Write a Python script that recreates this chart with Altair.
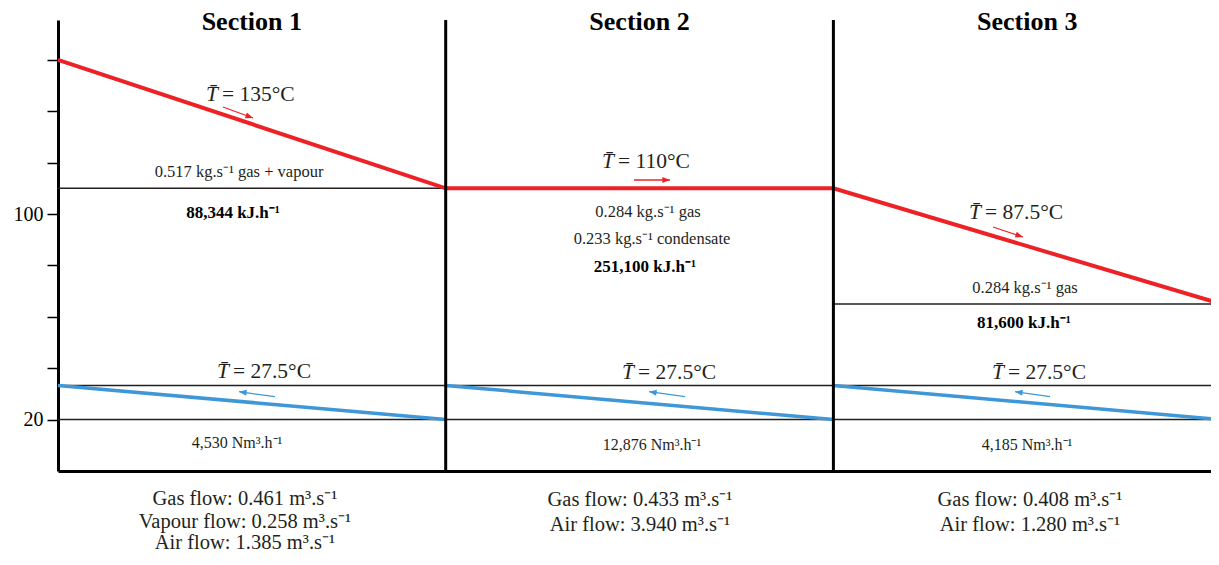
import math
import altair as alt
import pandas as pd

# ---------------- data ----------------
sections = ["Section 1", "Section 2", "Section 3"]
section_mid = [0.5, 1.5, 2.5]
section_edges = [0, 1, 2, 3]
gas_temps = [160, 110, 110, 65]      # gas temperature at section boundaries
air_in = [33.3, 33.3, 33.3]          # air temperature at left side of each section
air_out = [20, 20, 20]               # air temperature at right side of each section
gas_mean = ["135", "110", "87.5"]
air_mean = ["27.5", "27.5", "27.5"]
gas_rates = [["0.517 kg.s⁻¹ gas + vapour"],
             ["0.284 kg.s⁻¹ gas", "0.233 kg.s⁻¹ condensate"],
             ["0.284 kg.s⁻¹ gas"]]
duties = ["88,344 kJ.h⁻¹", "251,100 kJ.h⁻¹", "81,600 kJ.h⁻¹"]
air_rates = ["4,530 Nm³.h⁻¹", "12,876 Nm³.h⁻¹", "4,185 Nm³.h⁻¹"]
flows = [["Gas flow: 0.461 m³.s⁻¹", "Vapour flow: 0.258 m³.s⁻¹", "Air flow: 1.385 m³.s⁻¹"],
         ["Gas flow: 0.433 m³.s⁻¹", "Air flow: 3.940 m³.s⁻¹"],
         ["Gas flow: 0.408 m³.s⁻¹", "Air flow: 1.280 m³.s⁻¹"]]
y_ticks = [20, 40, 60, 80, 100, 120, 140, 160]
y_ticks_labelled = [20, 100]
divider_lines = [1, 2]
thin_lines = [(0, 1, 110), (2, 3, 65), (0, 3, 33.3), (0, 3, 20)]

# annotation anchor positions (data units)
gas_mean_pos = [(0.4153, 146.3), (1.4367, 120.2), (2.3833, 100.4)]
air_mean_pos = [(0.4436, 38.5), (1.4883, 38.1), (2.4426, 38.1)]
gas_rate_pos = [[(0.4669, 116.2)], [(1.5218, 100.8), (1.5321, 90.3)], [(2.4942, 71.2)]]
duty_pos = [(0.4514, 100.4), (1.5140, 79.4), (2.4916, 57.6)]
air_rate_pos = [(0.4617, 10.9), (1.5321, 10.1), (2.4994, 10.1)]
flow_pos = [[(0.4823, -10.9), (0.4823, -19.9), (0.4823, -28.0)],
            [(1.5011, -11.3), (1.5011, -21.0)],
            [(2.5071, -11.3), (2.5071, -21.0)]]
gas_arrows = [(0.4256, 141.65, 0.5030, 137.36), (1.4857, 113.24, 1.5785, 113.24),
              (2.4116, 94.95, 2.4890, 91.06)]
air_arrows = [(0.5597, 28.91, 0.4669, 30.86), (1.6172, 28.91, 1.5244, 30.86),
              (2.5587, 28.91, 2.4684, 30.86)]

# ---------------- layout ----------------
W, H = 1153, 451
XMAX = W / 387.7
YMAX = 175.5
PX_X = W / XMAX
PX_Y = H / YMAX
RED = "#ec2227"
BLUE = "#3f97d7"
INK = "#231f20"
FONT = "Liberation Serif"

xs = alt.Scale(domain=[0, XMAX], nice=False, zero=False)
ys = alt.Scale(domain=[0, YMAX], nice=False, zero=False)

# ---------------- tables ----------------
gas_df = pd.DataFrame({"x": section_edges, "y": gas_temps})
air_df = pd.DataFrame({"x": section_edges[:3], "y": air_in, "x2": section_edges[1:], "y2": air_out})
div_df = pd.DataFrame({"x": divider_lines, "y": [0] * len(divider_lines), "y2": [YMAX] * len(divider_lines)})
thin_df = pd.DataFrame(thin_lines, columns=["x", "x2", "y"])
title_df = pd.DataFrame({"x": section_mid, "y": [YMAX] * 3, "t": sections})

tbar_rows, eq_rows = [], []
for (x, y), m in zip(gas_mean_pos, gas_mean):
    tbar_rows.append({"x": x, "y": y, "t": "T\u0304"})
    eq_rows.append({"x": x, "y": y, "t": f"= {m}°C"})
for (x, y), m in zip(air_mean_pos, air_mean):
    tbar_rows.append({"x": x, "y": y, "t": "T\u0304"})
    eq_rows.append({"x": x, "y": y, "t": f"= {m}°C"})
tbar_df = pd.DataFrame(tbar_rows)
eq_df = pd.DataFrame(eq_rows)

small_rows = []
for texts, poss in zip(gas_rates, gas_rate_pos):
    for t, (x, y) in zip(texts, poss):
        small_rows.append({"x": x, "y": y, "t": t})
small_df = pd.DataFrame(small_rows)
nm_df = pd.DataFrame([{"x": x, "y": y, "t": t} for t, (x, y) in zip(air_rates, air_rate_pos)])
duty_df = pd.DataFrame([{"x": x, "y": y, "t": t} for t, (x, y) in zip(duties, duty_pos)])
flow_df = pd.DataFrame([{"x": x, "y": y, "t": t}
                        for texts, poss in zip(flows, flow_pos)
                        for t, (x, y) in zip(texts, poss)])

arrow_rows = []
for arrs, col in ((gas_arrows, RED), (air_arrows, BLUE)):
    for x1, y1, x2, y2 in arrs:
        dx = (x2 - x1) * PX_X
        dy = -(y2 - y1) * PX_Y
        ang = math.degrees(math.atan2(dy, dx)) % 360
        arrow_rows.append({"x": x1, "y": y1, "x2": x2, "y2": y2, "ang": ang, "c": col})
arrow_df = pd.DataFrame(arrow_rows)

# ---------------- layers ----------------
X = lambda: alt.X("x:Q", scale=xs, axis=alt.Axis(domain=True, domainColor="black", domainWidth=3,
                                                   ticks=False, labels=False, grid=False, title=None))
Y = lambda: alt.Y("y:Q", scale=ys, axis=alt.Axis(values=y_ticks, grid=False, title=None,
                                                   domainColor="black", domainWidth=3,
                                                   tickColor="black", tickWidth=1.5, tickSize=11,
                                                   labelFont=FONT, labelFontSize=20, labelColor="black",
                                                   labelPadding=4,
                                                   labelExpr="indexof(" + str(y_ticks_labelled) + ", datum.value) >= 0 ? datum.label : ''"))

thin = alt.Chart(thin_df).mark_rule(color=INK, strokeWidth=1.5).encode(
    x=X(), x2="x2:Q", y=Y())
gas = alt.Chart(gas_df).mark_line(color=RED, strokeWidth=4).encode(x="x:Q", y="y:Q")
air = alt.Chart(air_df).mark_rule(color=BLUE, strokeWidth=3.5).encode(
    x="x:Q", y="y:Q", x2="x2:Q", y2="y2:Q")
div = alt.Chart(div_df).mark_rule(color="black", strokeWidth=3).encode(
    x="x:Q", y="y:Q", y2="y2:Q")
arr_line = alt.Chart(arrow_df).mark_rule(strokeWidth=1.3).encode(
    x="x:Q", y="y:Q", x2="x2:Q", y2="y2:Q", color=alt.Color("c:N", scale=None))
arr_head = alt.Chart(arrow_df).mark_point(
    shape="M0,0L-1,-0.4L-1,0.4Z", filled=True, size=230, opacity=1, strokeWidth=0
).encode(x="x2:Q", y="y2:Q", angle=alt.Angle("ang:Q", scale=None), color=alt.Color("c:N", scale=None))

titles = alt.Chart(title_df).mark_text(font=FONT, fontSize=26, fontWeight="bold", color="black",
                                       baseline="middle", align="center", dy=2).encode(
    x="x:Q", y="y:Q", text="t:N")
tbar = alt.Chart(tbar_df).mark_text(font=FONT, fontSize=21.5, fontStyle="italic", color=INK,
                                    baseline="middle", align="right", dx=-1).encode(
    x="x:Q", y="y:Q", text="t:N")
eq = alt.Chart(eq_df).mark_text(font=FONT, fontSize=21.5, color=INK,
                                baseline="middle", align="left", dx=3).encode(
    x="x:Q", y="y:Q", text="t:N")
small = alt.Chart(small_df).mark_text(font=FONT, fontSize=16.5, color=INK,
                                      baseline="middle", align="center").encode(
    x="x:Q", y="y:Q", text="t:N")
nm = alt.Chart(nm_df).mark_text(font=FONT, fontSize=16, color=INK,
                                baseline="middle", align="center").encode(
    x="x:Q", y="y:Q", text="t:N")
duty = alt.Chart(duty_df).mark_text(font=FONT, fontSize=17, fontWeight="bold", color="black",
                                    baseline="middle", align="center").encode(
    x="x:Q", y="y:Q", text="t:N")
flow = alt.Chart(flow_df).mark_text(font=FONT, fontSize=20.5, color=INK,
                                    baseline="middle", align="center").encode(
    x="x:Q", y="y:Q", text="t:N")

chart = alt.layer(thin, gas, air, div, arr_line, arr_head, titles, tbar, eq, small, nm, duty, flow).properties(
    width=W, height=H,
    background="white",
    autosize=alt.AutoSizeParams(type="none"),
    padding={"left": 50, "top": 12, "right": 0, "bottom": 82},
).configure_view(stroke=None, strokeWidth=0)

chart.save("out.html", embed_options={"renderer": "svg", "actions": False})
